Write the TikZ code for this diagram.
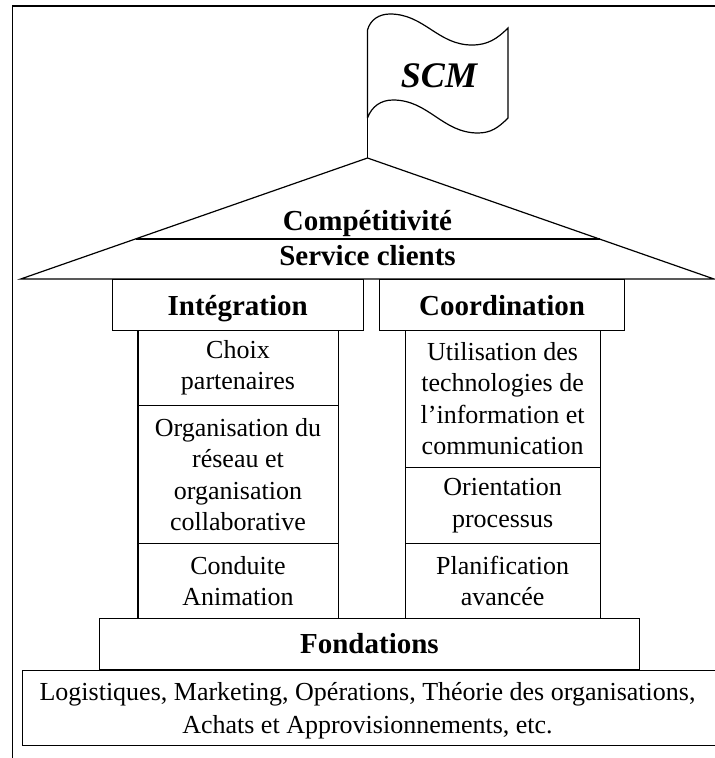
\documentclass[tikz,border=0pt]{standalone}
\usepackage{fontspec}
\setmainfont{Liberation Serif}
\newcommand\cellfnt{\fontsize{26}{31.5}\selectfont}
\newcommand\basefnt{\fontsize{26}{33}\selectfont}
\newcommand\headfnt{\fontsize{29}{34}\selectfont\bfseries}
\newcommand\flagfnt{\fontsize{36}{40}\selectfont\bfseries\itshape}
\begin{document}
\begin{tikzpicture}[x=1pt,y=-1pt,
  lw/.style={line width=1.2pt},
  cell/.style={draw,lw,align=center,inner sep=0pt,anchor=north west,font=\cellfnt},
  headbox/.style={draw,lw,inner sep=0pt,anchor=north west},
  headtxt/.style={font=\headfnt,anchor=base,inner sep=0pt},
  plain/.style={font=\basefnt,align=center,inner sep=0pt}]
\useasboundingbox (0,0) rectangle (715,758);
% outer frame
\coordinate (frTL) at (12.7,6);
\coordinate (frTR) at (718,6);
\coordinate (frBL) at (12.7,762);
\draw[lw] (frBL) -- (frTL) -- (frTR);
% flag
\coordinate (flTL) at (367.5,30);
\coordinate (flBL) at (367.5,118);
\coordinate (flTR) at (508,28);
\coordinate (flBR) at (508,118);
\draw[lw] (flBL) -- (flTL) to[out=75,in=180] (390,14) to[out=0,in=180] (472,45) to[out=0,in=225] (flTR)
  -- (flBR) to[out=225,in=0] (478,133) to[out=180,in=0] (393,100) to[out=180,in=70] (flBL);
\node[font=\flagfnt,anchor=base,inner sep=0pt] (scm) at (439,87) {SCM};
% roof
\coordinate (apex) at (367.5,158);
\coordinate (roofL) at (20.7,279);
\coordinate (roofR) at (714,279);
\draw[lw] (flBL) -- (apex);
\draw[lw] (roofL) -- (apex) -- (roofR) -- cycle;
\coordinate (sepL) at (135.5,239);
\coordinate (sepR) at (599.5,239);
\draw[lw] (sepL) -- (sepR);
\node[headtxt] (comp) at (367.5,230) {Compétitivité};
\node[headtxt] (serv) at (367.5,265) {Service clients};
% capitals
\node[headbox,minimum width=250.8,minimum height=50.5] (integ) at (111.7,279) {};
\node[headtxt] (integt) at (integ.center|-0,315) {Intégration};
\node[headbox,minimum width=245,minimum height=50.5] (coord) at (379,279) {};
\node[headtxt] (coordt) at (coord.center|-0,315) {Coordination};
% left column
\node[cell,minimum width=200.2,minimum height=75.5] (l1) at (137.3,329.5) {Choix\\partenaires};
\node[cell,minimum width=200.2,minimum height=138] (l2) at (137.3,405) {Organisation du\\réseau et\\organisation\\collaborative};
\node[cell,minimum width=200.2,minimum height=74.7] (l3) at (137.3,543) {Conduite\\Animation};
% right column
\node[cell,minimum width=195,minimum height=137.5] (r1) at (404.5,329.5) {Utilisation des\\technologies de\\l’information et\\communication};
\node[cell,minimum width=195,minimum height=76] (r2) at (404.5,467) {Orientation\\processus};
\node[cell,minimum width=195,minimum height=74.7] (r3) at (404.5,543) {Planification\\avancée};
% foundations
\node[headbox,minimum width=539.7,minimum height=51.3] (fond) at (99,617.7) {};
\node[headtxt] (fondt) at (fond.center|-0,653) {Fondations};
\node[headbox,minimum width=697,minimum height=75.5] (base) at (21.7,669.5) {};
\node[plain] (baset) at (367.5,710.5) {Logistiques, Marketing, Opérations, Théorie des organisations,\\Achats et Approvisionnements, etc.};
\end{tikzpicture}
\end{document}
